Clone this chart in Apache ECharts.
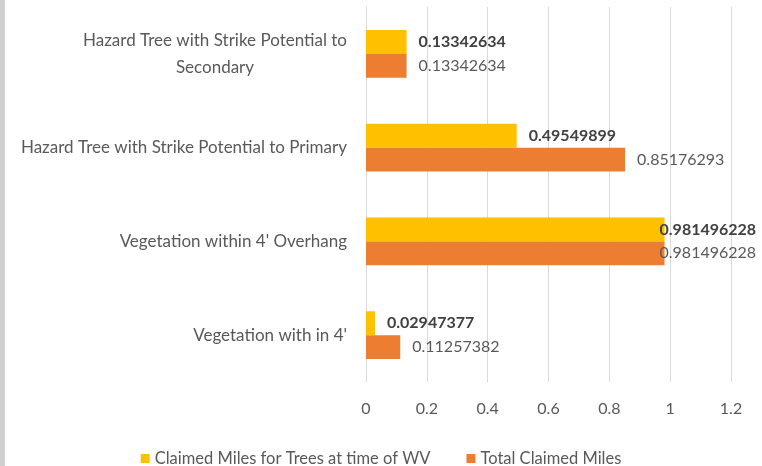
<!DOCTYPE html>
<html>
<head>
<meta charset="utf-8">
<script src="https://cdn.jsdelivr.net/npm/echarts@6/dist/echarts.min.js"></script>
<style>
  html, body { margin: 0; padding: 0; background: #ffffff; }
  #wrap { position: relative; width: 762px; height: 466px; overflow: hidden; }
  #edge { position: absolute; left: 0; top: 0; width: 5px; height: 466px; background: #d0d0d0; }
  #chart { position: absolute; left: 0; top: 0; width: 762px; height: 466px; }
</style>
</head>
<body>
<div id="wrap"><div id="chart"></div><div id="edge"></div></div>
<script>
// Categories listed top to bottom
var categories = [
  'Hazard Tree with Strike Potential to Secondary',
  'Hazard Tree with Strike Potential to Primary',
  "Vegetation within 4' Overhang",
  "Vegetation with in 4'"
];
var seriesNames = ['Claimed Miles for Trees at time of WV', 'Total Claimed Miles'];
var claimedAtWV = [0.13342634, 0.49549899, 0.981496228, 0.02947377];
var totalClaimed = [0.13342634, 0.85176293, 0.981496228, 0.11257382];
var xTicks = [0, 0.2, 0.4, 0.6, 0.8, 1, 1.2];

var FONT = 'Lato, "Open Sans", sans-serif';
var chart = echarts.init(document.getElementById('chart'), null, { renderer: 'canvas' });

function makeData(vals) {
  return vals.map(function (v) {
    var item = { value: v };
    if (v > 0.9) {
      item.label = { distance: -5 };
    }
    return item;
  });
}

function wrapName(name) {
  if (name.length > 44) {
    var i = name.lastIndexOf(' ');
    return '{c|' + name.slice(0, i) + '}\n{c|' + name.slice(i + 1) + '}';
  }
  return name;
}

var option = {
  animation: false,
  backgroundColor: '#ffffff',
  textStyle: { fontFamily: FONT },
  legend: {
    data: seriesNames,
    left: 'center',
    top: 445,
    icon: 'rect',
    itemWidth: 9,
    itemHeight: 9,
    itemGap: 36,
    textStyle: { color: '#595959', fontSize: 16.5, fontFamily: FONT }
  },
  grid: { left: 366, right: 31, top: 7, bottom: 84, containLabel: false },
  xAxis: {
    type: 'value',
    min: xTicks[0],
    max: xTicks[xTicks.length - 1],
    interval: 0.2,
    axisLine: { show: false },
    axisTick: { show: false },
    splitLine: { show: true, lineStyle: { color: '#d9d9d9', width: 1 } },
    axisLabel: { color: '#595959', fontSize: 16, fontFamily: FONT, margin: 19 }
  },
  yAxis: {
    type: 'category',
    data: categories,
    inverse: true,
    axisLine: { show: true, lineStyle: { color: '#d9d9d9', width: 1 } },
    axisTick: { show: false },
    splitLine: { show: false },
    axisLabel: {
      color: '#595959', fontSize: 17, fontFamily: FONT, margin: 19, align: 'right',
      formatter: wrapName,
      rich: { c: { align: 'center', color: '#595959', fontSize: 17, fontFamily: FONT, lineHeight: 27 } }
    }
  },
  series: [
    {
      name: seriesNames[0],
      type: 'bar',
      data: makeData(claimedAtWV),
      itemStyle: { color: '#ffc000' },
      barGap: '0%',
      barCategoryGap: '49%',
      label: {
        show: true, position: 'right', distance: 12,
        color: '#404040', fontWeight: 'bold', fontSize: 16, fontFamily: FONT,
        formatter: function (p) { return String(p.value); }
      }
    },
    {
      name: seriesNames[1],
      type: 'bar',
      data: makeData(totalClaimed),
      itemStyle: { color: '#ed7d31' },
      barGap: '0%',
      barCategoryGap: '49%',
      label: {
        show: true, position: 'right', distance: 12,
        color: '#595959', fontSize: 16, fontFamily: FONT,
        formatter: function (p) { return String(p.value); }
      }
    }
  ]
};
chart.setOption(option);
</script>
</body>
</html>
